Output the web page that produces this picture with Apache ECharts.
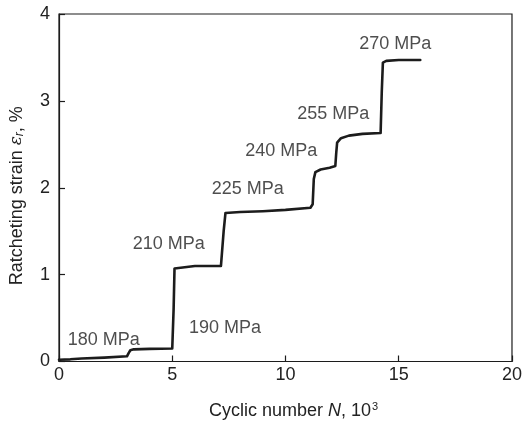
<!DOCTYPE html>
<html>
<head>
<meta charset="utf-8">
<script src="https://cdn.jsdelivr.net/npm/echarts@6/dist/echarts.min.js"></script>
<style>
  html, body { margin: 0; padding: 0; background: #fff; }
  #chart { width: 525px; height: 425px; }
</style>
</head>
<body>
<div id="chart"></div>
<script>
// Cyclic number N (thousands of cycles) and ratcheting strain (%) along the loading history
const cycles = [0, 0.5, 1, 2, 3.0, 3.08, 3.15, 3.3, 4, 5.0, 5.06, 5.1, 5.15, 6, 7.15, 7.22, 7.27, 7.35, 8, 9, 10, 11.1, 11.2, 11.25, 11.32, 11.55, 11.95, 12.2, 12.24, 12.28, 12.45, 12.8, 13.4, 14.2, 14.25, 14.3, 14.45, 15.0, 15.95];
const strain = [0.02, 0.025, 0.035, 0.045, 0.06, 0.1, 0.13, 0.14, 0.145, 0.15, 0.6, 1.07, 1.09, 1.1, 1.1, 1.1, 1.5, 1.71, 1.72, 1.73, 1.745, 1.77, 1.81, 2.1, 2.18, 2.21, 2.23, 2.25, 2.4, 2.52, 2.57, 2.6, 2.62, 2.63, 3.1, 3.44, 3.46, 3.47, 3.47];

// Stress level of each loading block, anchored in (cycles, strain) units
const stressLabels = ['180 MPa', '190 MPa', '210 MPa', '225 MPa', '240 MPa', '255 MPa', '270 MPa'];
const labelX = [0.39, 5.74, 3.26, 6.74, 8.22, 10.52, 13.26];
const labelY = [0.25, 0.38, 1.35, 1.98, 2.42, 2.85, 3.66];

const xTicks = { min: 0, max: 20, interval: 5 };
const yTicks = { min: 0, max: 4, interval: 1 };

const font = '"Liberation Sans", Arial, Helvetica, sans-serif';
const ink = '#1c1c1c';
const textInk = '#222';

const chart = echarts.init(document.getElementById('chart'), null, { renderer: 'canvas' });

chart.setOption({
  backgroundColor: '#ffffff',
  animation: false,
  grid: {
    left: 58, right: 7, top: 14, bottom: 62,
    show: true, borderColor: ink, borderWidth: 1.2, backgroundColor: 'transparent'
  },
  xAxis: {
    type: 'value',
    min: xTicks.min, max: xTicks.max, interval: xTicks.interval,
    name: '{t|Cyclic number }{i|N}{t|, 10}{s|3}',
    nameLocation: 'middle', nameGap: 40,
    nameTextStyle: {
      padding: [0, 0, 0, 16],
      rich: {
        t: { fontFamily: font, fontSize: 18, color: textInk },
        i: { fontFamily: font, fontSize: 18, color: textInk, fontStyle: 'italic' },
        s: { fontFamily: font, fontSize: 11, color: textInk, verticalAlign: 'top', padding: [0, 0, 8, 1] }
      }
    },
    axisLine: { show: true, onZero: false, lineStyle: { color: ink, width: 1.2 } },
    axisTick: { show: true, inside: true, length: 6, lineStyle: { color: ink, width: 1.2 } },
    axisLabel: { fontFamily: font, fontSize: 18, color: textInk, margin: 5 },
    splitLine: { show: false }
  },
  yAxis: {
    type: 'value',
    min: yTicks.min, max: yTicks.max, interval: yTicks.interval,
    name: '{t|Ratcheting strain }{i|ε}{sub|r}{t|, %}',
    nameLocation: 'middle', nameGap: 33, nameRotate: 90,
    nameTextStyle: {
      padding: [0, 16, 0, 0],
      rich: {
        t: { fontFamily: font, fontSize: 18, color: textInk },
        i: { fontFamily: 'DejaVu Serif, serif', fontSize: 17, color: textInk, fontStyle: 'italic' },
        sub: { fontFamily: font, fontSize: 12, color: textInk, fontStyle: 'italic', verticalAlign: 'bottom', padding: [6, 0, 0, 0] }
      }
    },
    axisLine: { show: true, lineStyle: { color: ink, width: 1.2 } },
    axisTick: { show: true, inside: true, length: 6, lineStyle: { color: ink, width: 1.2 } },
    axisLabel: { fontFamily: font, fontSize: 18, color: textInk, margin: 9 },
    splitLine: { show: false }
  },
  series: [
    {
      type: 'line',
      data: cycles.map((c, i) => [c, strain[i]]),
      showSymbol: false,
      smooth: false,
      lineStyle: { color: ink, width: 2.6, join: 'round', cap: 'round' },
      clip: true,
      z: 3
    },
    {
      type: 'scatter',
      data: stressLabels.map((s, i) => ({ value: [labelX[i], labelY[i]], name: s })),
      symbolSize: 0,
      silent: true,
      label: {
        show: true,
        position: 'right',
        distance: 0,
        formatter: p => p.name,
        fontFamily: font,
        fontSize: 18,
        color: textInk
      },
      z: 4
    }
  ]
});
</script>
</body>
</html>
